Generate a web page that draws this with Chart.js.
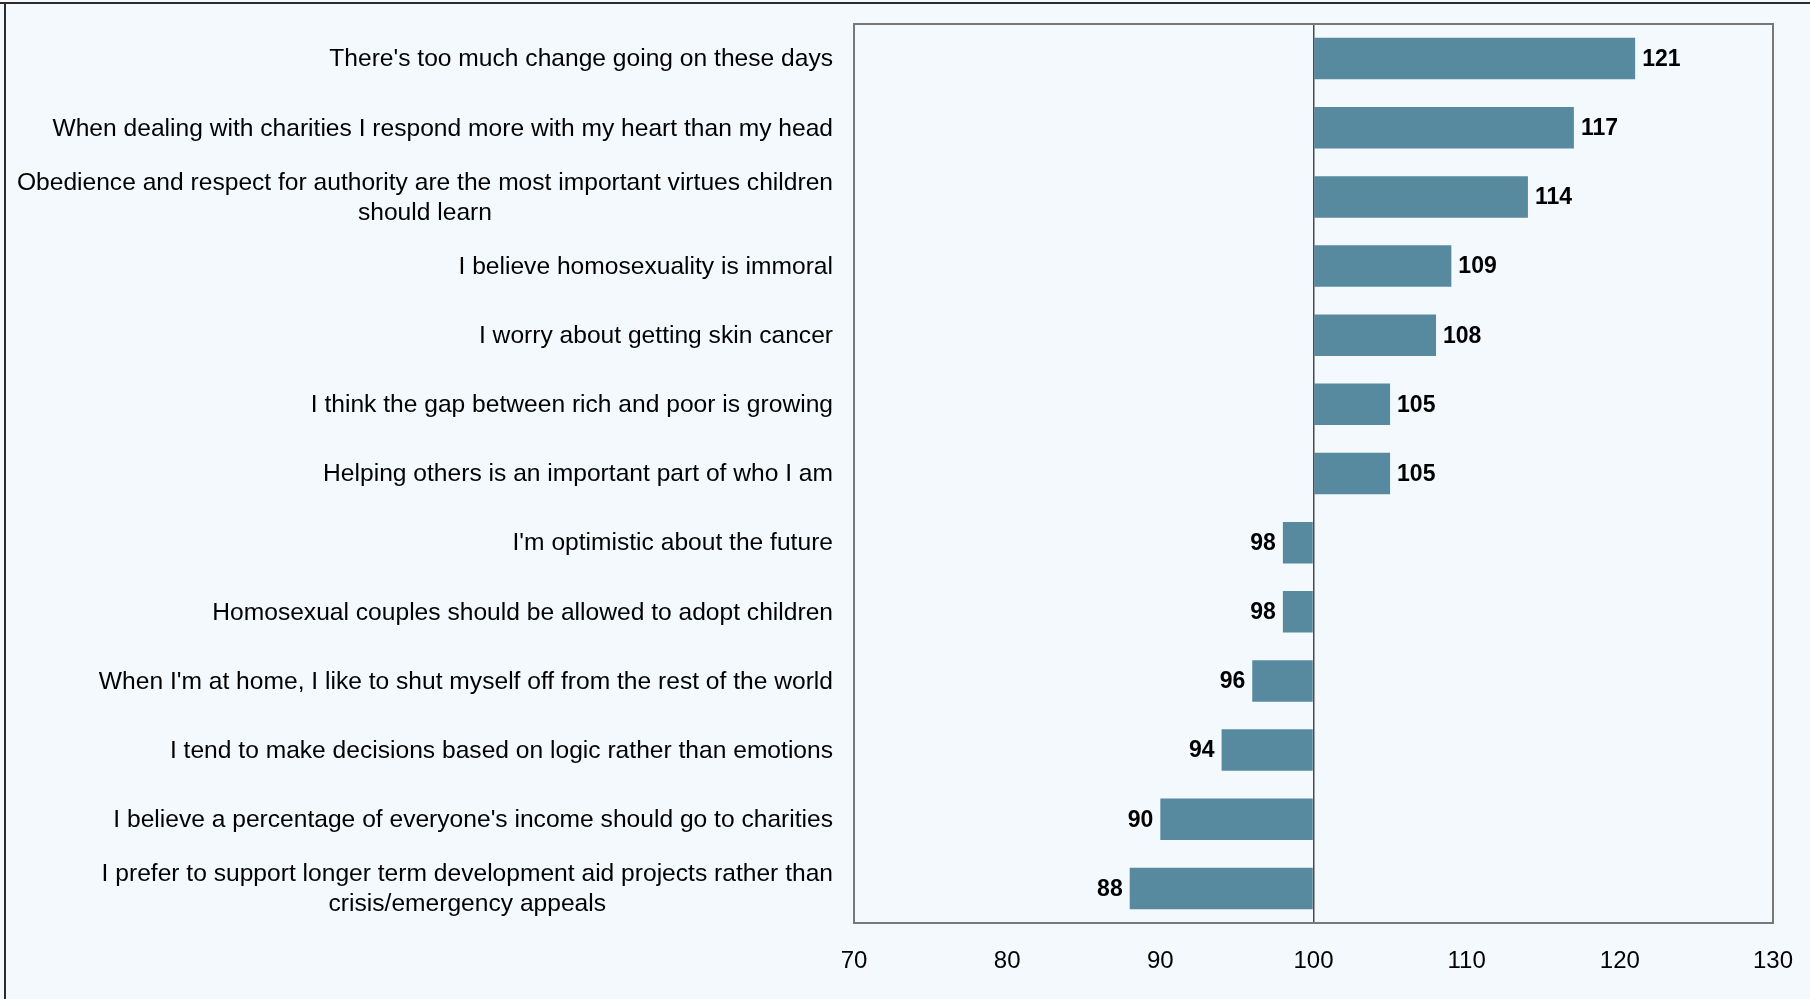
<!DOCTYPE html>
<html>
<head>
<meta charset="utf-8">
<script src="https://cdn.jsdelivr.net/npm/chart.js@4.4.0/dist/chart.umd.min.js"></script>
<style>
  html, body { margin: 0; padding: 0; background: #f4f9fd; }
  #wrap { width: 1810px; height: 999px; }
</style>
</head>
<body>
<div id="wrap"><canvas id="index_chart" width="1810" height="999"></canvas></div>
<script>
// Attitude statements (long ones split over two lines) and their index scores
const statements = [
  "There's too much change going on these days",
  "When dealing with charities I respond more with my heart than my head",
  ["Obedience and respect for authority are the most important virtues children", "should learn"],
  "I believe homosexuality is immoral",
  "I worry about getting skin cancer",
  "I think the gap between rich and poor is growing",
  "Helping others is an important part of who I am",
  "I'm optimistic about the future",
  "Homosexual couples should be allowed to adopt children",
  "When I'm at home, I like to shut myself off from the rest of the world",
  "I tend to make decisions based on logic rather than emotions",
  "I believe a percentage of everyone's income should go to charities",
  ["I prefer to support longer term development aid projects rather than", "crisis/emergency appeals"]
];
const indexValues = [121, 117, 114, 109, 108, 105, 105, 98, 98, 96, 94, 90, 88];
const xTickValues = [70, 80, 90, 100, 110, 120, 130];
const baseline = 100;

const FONT = '"Liberation Sans", Arial, sans-serif';
const BAR_COLOR = '#578a9e';

// Page background plus the thin dark rule on the top and left edges
const backgroundPlugin = {
    id: 'background',
    beforeDraw(chart) {
        const ctx = chart.ctx;
        ctx.save();
        ctx.fillStyle = '#f4f9fd';
        ctx.fillRect(0, 0, chart.width, chart.height);
        ctx.fillStyle = '#2b2b2b';
        ctx.fillRect(0, 2, chart.width, 2);
        ctx.fillRect(4, 2, 2, chart.height);
        ctx.restore();
    }
};

// Grey box round the plot area
const framePlugin = {
    id: 'frame',
    afterDatasetsDraw(chart) {
        const { ctx, chartArea: a } = chart;
        ctx.save();
        ctx.strokeStyle = '#787878';
        ctx.lineWidth = 2;
        ctx.strokeRect(a.left, a.top, a.right - a.left, a.bottom - a.top);
        ctx.restore();
    }
};

// Statement labels: right aligned, wrapped lines centred on the widest line
const statementLabelsPlugin = {
    id: 'statementLabels',
    afterDraw(chart) {
        const { ctx, chartArea } = chart;
        const yScale = chart.scales.y;
        const right = chartArea.left - 21;
        const lineHeight = 30;
        ctx.save();
        ctx.font = '24.6px ' + FONT;
        ctx.fillStyle = '#000';
        ctx.textBaseline = 'middle';
        ctx.textAlign = 'center';
        statements.forEach((label, i) => {
            const lines = Array.isArray(label) ? label : [label];
            const widest = Math.max(...lines.map(l => ctx.measureText(l).width));
            const cx = right - widest / 2;
            const cy = yScale.getPixelForValue(i) + 1;
            const top = cy - (lines.length - 1) * lineHeight / 2;
            lines.forEach((line, j) => ctx.fillText(line, cx, top + j * lineHeight));
        });
        ctx.restore();
    }
};

// Index value printed just past the end of each bar
const valueLabelsPlugin = {
    id: 'valueLabels',
    afterDatasetsDraw(chart) {
        const ctx = chart.ctx;
        const meta = chart.getDatasetMeta(0);
        ctx.save();
        ctx.font = 'bold 23px ' + FONT;
        ctx.fillStyle = '#000';
        ctx.textBaseline = 'middle';
        meta.data.forEach((bar, i) => {
            const v = indexValues[i];
            if (v >= baseline) {
                ctx.textAlign = 'left';
                ctx.fillText(String(v), bar.x + 7, bar.y + 1);
            } else {
                ctx.textAlign = 'right';
                ctx.fillText(String(v), bar.x - 7, bar.y + 1);
            }
        });
        ctx.restore();
    }
};

const ctx = document.getElementById('index_chart').getContext('2d');
new Chart(ctx, {
    type: 'bar',
    data: {
        labels: statements,
        datasets: [{
            data: indexValues,
            base: baseline,
            backgroundColor: BAR_COLOR,
            borderWidth: 0,
            categoryPercentage: 1,
            barPercentage: 0.6
        }]
    },
    options: {
        indexAxis: 'y',
        responsive: false,
        devicePixelRatio: 1,
        animation: false,
        layout: { padding: { left: 0, top: 24, right: 37, bottom: 0 } },
        plugins: {
            legend: { display: false },
            tooltip: { enabled: false }
        },
        scales: {
            x: {
                min: 70,
                max: 130,
                afterBuildTicks: scale => { scale.ticks = xTickValues.map(v => ({ value: v })); },
                afterFit: scale => {
                    scale.height = 76;
                    // end labels fit inside the layout padding already
                    scale.paddingLeft = 0;
                    scale.paddingRight = 0;
                },
                border: { display: false },
                grid: {
                    drawTicks: false,
                    color: c => (c.tick && c.tick.value === baseline) ? '#4a4a4a' : 'rgba(0,0,0,0)',
                    lineWidth: 1.5
                },
                ticks: {
                    padding: 24,
                    color: '#000',
                    font: { family: FONT, size: 24 },
                    maxRotation: 0
                }
            },
            y: {
                afterFit: scale => { scale.width = 854; },
                border: { display: false },
                grid: { display: false },
                ticks: { display: false }
            }
        }
    },
    plugins: [backgroundPlugin, framePlugin, statementLabelsPlugin, valueLabelsPlugin]
});
</script>
</body>
</html>
